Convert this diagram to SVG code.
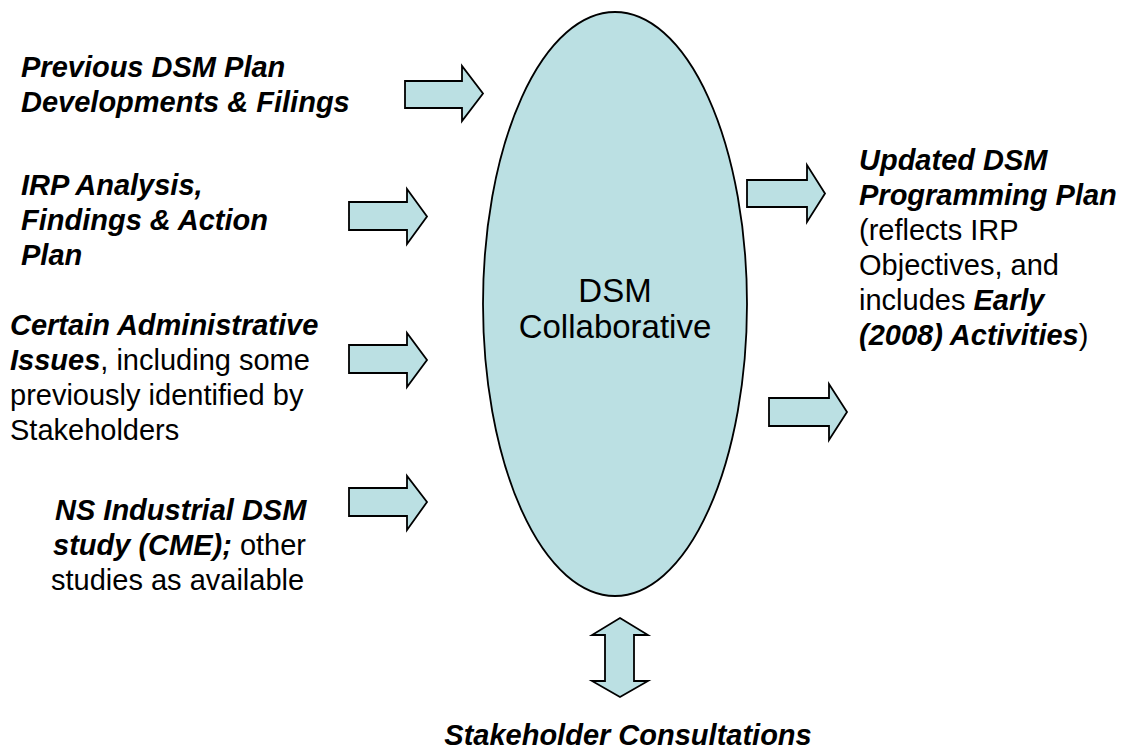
<svg xmlns="http://www.w3.org/2000/svg" width="1126" height="753" viewBox="0 0 1126 753">
  <style>
    .shape { fill: #bbe0e3; stroke: #000; stroke-width: 1.8; stroke-linejoin: miter; }
    text { font-family: "Liberation Sans", Arial, sans-serif; font-size: 29px; fill: #000; }
    .bi { font-weight: bold; font-style: italic; }
    .centre { font-size: 33px; }
  </style>
  <rect width="1126" height="753" fill="#fff"/>

  <!-- central node -->
  <g id="dsm-collaborative">
    <ellipse class="shape" cx="615" cy="304" rx="132" ry="292"/>
    <text class="centre" x="615" y="302" text-anchor="middle">DSM</text>
    <text class="centre" x="615" y="338" text-anchor="middle">Collaborative</text>
  </g>

  <!-- block arrows -->
  <g id="connectors">
    <polygon class="shape" points="405,81 462,81 462,66 483,93.5 462,121 462,108 405,108"/>
    <polygon class="shape" points="349,202 407,202 407,189 427,216.5 407,244 407,230 349,230"/>
    <polygon class="shape" points="349,345 407,345 407,333 427,360 407,387 407,373 349,373"/>
    <polygon class="shape" points="349,488 407,488 407,476 427,502 407,530 407,516 349,516"/>
    <polygon class="shape" points="747,180 807,180 807,165 825,193.5 807,222 807,207 747,207"/>
    <polygon class="shape" points="769,398 829,398 829,384 847,412 829,440 829,426 769,426"/>
    <polygon class="shape" points="620,618 648,635 634,635 634,681 648,681 620,697 592,681 605,681 605,635 592,635"/>
  </g>

  <g id="previous-plan">
    <text class="bi" x="21" y="77">Previous DSM Plan</text>
    <text class="bi" x="21" y="112">Developments &amp; Filings</text>
  </g>

  <g id="irp-analysis">
    <text class="bi" x="21" y="195">IRP Analysis,</text>
    <text class="bi" x="21" y="230">Findings &amp; Action</text>
    <text class="bi" x="21" y="265">Plan</text>
  </g>

  <g id="admin-issues">
    <text class="bi" x="10" y="335">Certain Administrative</text>
    <text x="10" y="370"><tspan class="bi">Issues</tspan>, including some</text>
    <text x="10" y="405">previously identified by</text>
    <text x="10" y="440">Stakeholders</text>
  </g>

  <g id="industrial-study">
    <text class="bi" x="55" y="520">NS Industrial DSM</text>
    <text x="53" y="555"><tspan class="bi">study (CME);</tspan> other</text>
    <text x="51" y="590">studies as available</text>
  </g>

  <g id="updated-plan">
    <text class="bi" x="859" y="170">Updated DSM</text>
    <text class="bi" x="859" y="205">Programming Plan</text>
    <text x="859" y="240">(reflects IRP</text>
    <text x="859" y="275">Objectives, and</text>
    <text x="859" y="310">includes <tspan class="bi">Early</tspan></text>
    <text x="859" y="345"><tspan class="bi">(2008) Activities</tspan>)</text>
  </g>

  <g id="stakeholder-consultations">
    <text class="bi" x="628" y="745" text-anchor="middle">Stakeholder Consultations</text>
  </g>
</svg>
